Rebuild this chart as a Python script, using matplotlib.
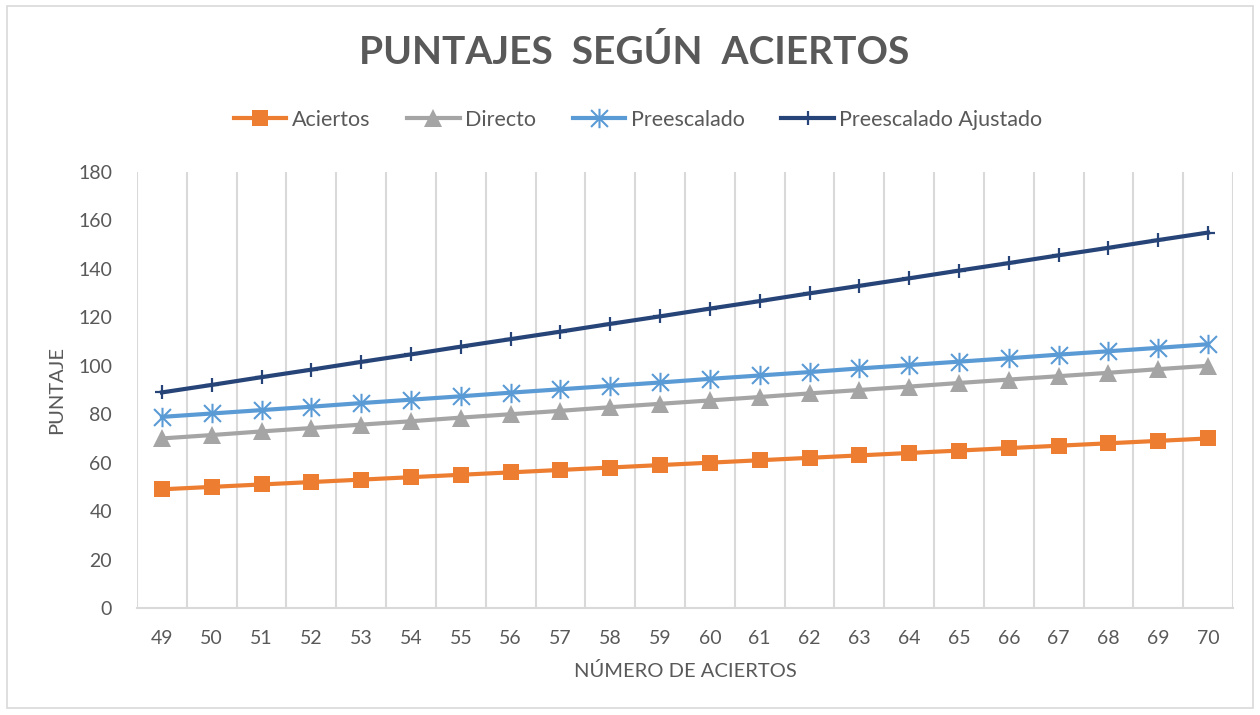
import matplotlib
matplotlib.use("Agg")
import matplotlib.pyplot as plt
from matplotlib.path import Path
from matplotlib.patches import Rectangle

plt.rcParams['font.family'] = ['Lato', 'DejaVu Sans']

aciertos_x = list(range(49, 71))
aciertos = [49, 50, 51, 52, 53, 54, 55, 56, 57, 58, 59, 60, 61, 62, 63, 64, 65, 66, 67, 68, 69, 70]
directo = [70.0, 71.4, 72.9, 74.3, 75.7, 77.1, 78.6, 80.0, 81.4, 82.9, 84.3,
           85.7, 87.1, 88.6, 90.0, 91.4, 92.9, 94.3, 95.7, 97.1, 98.6, 100.0]
preescalado = [78.9, 80.3, 81.7, 83.1, 84.6, 86.0, 87.4, 88.9, 90.3, 91.7, 93.1,
               94.6, 96.0, 97.4, 98.9, 100.3, 101.7, 103.1, 104.6, 106.0, 107.4, 108.9]
ajustado = [89.0, 92.1, 95.3, 98.4, 101.6, 104.7, 107.9, 111.0, 114.1, 117.3, 120.4,
            123.6, 126.7, 129.9, 133.0, 136.1, 139.3, 142.4, 145.6, 148.7, 151.9, 155.0]
series_names = ["Aciertos", "Directo", "Preescalado", "Preescalado Ajustado"]
y_ticks = [0, 20, 40, 60, 80, 100, 120, 140, 160, 180]

colors = ["#ED7D31", "#A5A5A5", "#5B9BD5", "#264478"]
text_color = "#595959"

star = Path([(-1, -1), (1, 1), (-1, 1), (1, -1), (0, -1.15), (0, 1.15)],
            [Path.MOVETO, Path.LINETO, Path.MOVETO, Path.LINETO, Path.MOVETO, Path.LINETO])

W, H = 1260, 715
fig = plt.figure(figsize=(12.6, 7.15), dpi=100)
fig.patches.append(Rectangle((7/W, 1 - 708/H), 1246/W, 702/H, transform=fig.transFigure,
                             fill=False, edgecolor="#D9D9D9", linewidth=1.2))
ax = fig.add_axes([137/W, 1 - 608/H, (1233 - 137)/W, (608 - 172)/H])

styles = [
    dict(marker='s', markersize=11.5, markeredgewidth=0),
    dict(marker='^', markersize=13, markeredgewidth=0),
    dict(marker=star, markersize=14, markeredgewidth=1.5, markerfacecolor='none'),
    dict(marker='+', markersize=10.5, markeredgewidth=1.6),
]
data = [aciertos, directo, preescalado, ajustado]
handles = []
for name, vals, c, st in zip(series_names, data, colors, styles):
    ln, = ax.plot(aciertos_x, vals, color=c, linewidth=3, label=name, zorder=3, **st)
    ln.set_markeredgecolor(c)
    handles.append(ln)

ax.set_xlim(48.5, 70.5)
ax.set_ylim(0, 180)
ax.set_yticks(y_ticks)
ax.set_xticks(aciertos_x)
ax.set_xticklabels([str(v) for v in aciertos_x])
for b in range(len(aciertos_x) + 1):
    ax.axvline(48.5 + b, color="#D9D9D9", linewidth=1.5, zorder=1)
for s in ['top', 'right', 'left']:
    ax.spines[s].set_visible(False)
ax.spines['bottom'].set_color("#D9D9D9")
ax.spines['bottom'].set_linewidth(1.5)
ax.tick_params(axis='both', length=0, colors=text_color, labelsize=14)
ax.tick_params(axis='x', pad=16)
ax.tick_params(axis='y', pad=18)

ax.set_xlabel("NÚMERO DE ACIERTOS", color=text_color, fontsize=14.5)
ax.xaxis.set_label_coords((685 - 137)/1096, -(671 - 608)/436)
ax.xaxis.label.set_va('center')
ax.set_ylabel("PUNTAJE", color=text_color, fontsize=14.5)
ax.yaxis.set_label_coords((57 - 137)/1096, (608 - 390)/436)
ax.yaxis.label.set_va('center')

fig.text(634/W, 1 - 52/H, "PUNTAJES  SEGÚN  ACIERTOS", ha='center', va='center',
         fontsize=28, fontweight='bold', color=text_color)

leg = fig.legend(handles=handles, loc='center', bbox_to_anchor=(638/W, 1 - 120/H),
                 ncol=4, frameon=False, fontsize=15.5, handlelength=2.45, handletextpad=0.25,
                 columnspacing=1.7, labelcolor=text_color)

fig.savefig("out.png", dpi=100)
